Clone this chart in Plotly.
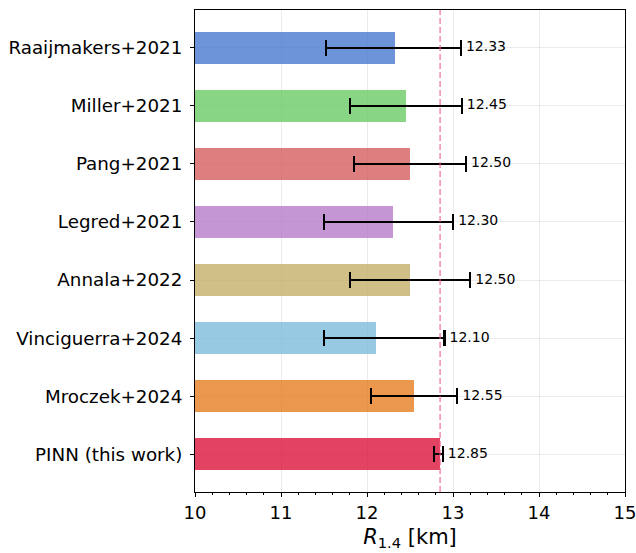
import plotly.graph_objects as go

# Published R_1.4 constraints (km), top to bottom
studies = ["Raaijmakers+2021", "Miller+2021", "Pang+2021", "Legred+2021",
           "Annala+2022", "Vinciguerra+2024", "Mroczek+2024", "PINN (this work)"]
radius = [12.33, 12.45, 12.50, 12.30, 12.50, 12.10, 12.55, 12.85]
err_plus = [0.76, 0.65, 0.65, 0.70, 0.70, 0.80, 0.50, 0.03]
err_minus = [0.81, 0.65, 0.65, 0.80, 0.70, 0.60, 0.50, 0.07]
bar_colors = ["#4878d0", "#6acc64", "#d65f5f", "#b57cc9",
              "#c4b069", "#7dbddb", "#e67e22", "#dc143c"]
pinn_radius = 12.85
x_ticks = [10, 11, 12, 13, 14, 15]

n = len(studies)
ypos = list(range(n - 1, -1, -1))
font = "DejaVu Sans, Verdana, sans-serif"

fig = go.Figure()

fig.add_trace(go.Bar(
    x=radius, y=ypos, orientation="h", width=0.55,
    marker=dict(color=bar_colors, opacity=0.8, line=dict(width=0)),
    error_x=dict(type="data", symmetric=False, array=err_plus,
                 arrayminus=err_minus, color="black", thickness=2.2, width=8),
    showlegend=False, hoverinfo="skip",
))

# value labels just right of each upper error bound
fig.add_trace(go.Scatter(
    x=[r + p + 0.06 for r, p in zip(radius, err_plus)], y=ypos,
    mode="text", text=[f"{r:.2f}" for r in radius],
    textposition="middle right",
    textfont=dict(family=font, size=14, color="black"),
    showlegend=False, hoverinfo="skip",
))

# reference line at the PINN estimate
fig.add_shape(type="line", xref="x", yref="paper",
              x0=pinn_radius, x1=pinn_radius, y0=0, y1=1,
              line=dict(color="rgba(240,90,130,0.7)", width=1.5, dash="6px,3px"))

axis_common = dict(
    showline=True, linecolor="black", linewidth=1, mirror=True,
    showgrid=True, gridcolor="rgba(0,0,0,0.08)", gridwidth=1,
    zeroline=False, ticks="outside", ticklen=4, tickwidth=1, tickcolor="black",
    automargin=False,
)

fig.update_xaxes(
    **axis_common, range=[10, 15], tickvals=x_ticks,
    ticktext=[str(t) for t in x_ticks],
    ticklabeloverflow="allow",
    tickfont=dict(family=font, size=18, color="black"),
    minor=dict(ticks="outside", ticklen=2, tickwidth=0.8, tickcolor="black",
               dtick=0.2, showgrid=False),
    title=dict(text="<i>R</i><sub>1.4</sub> [km]",
               font=dict(family=font, size=21, color="black"), standoff=7),
)
fig.update_yaxes(
    **axis_common, range=[-0.65, 7.65], tickvals=ypos, ticktext=studies,
    ticklabelstandoff=4,
    tickfont=dict(family=font, size=18.3, color="black"),
)

fig.update_layout(
    width=636, height=553,
    margin=dict(l=195, r=11, t=10, b=61),
    plot_bgcolor="white", paper_bgcolor="white",
    font=dict(family=font, color="black"),
    bargap=0,
)

fig.write_html("out.html")
